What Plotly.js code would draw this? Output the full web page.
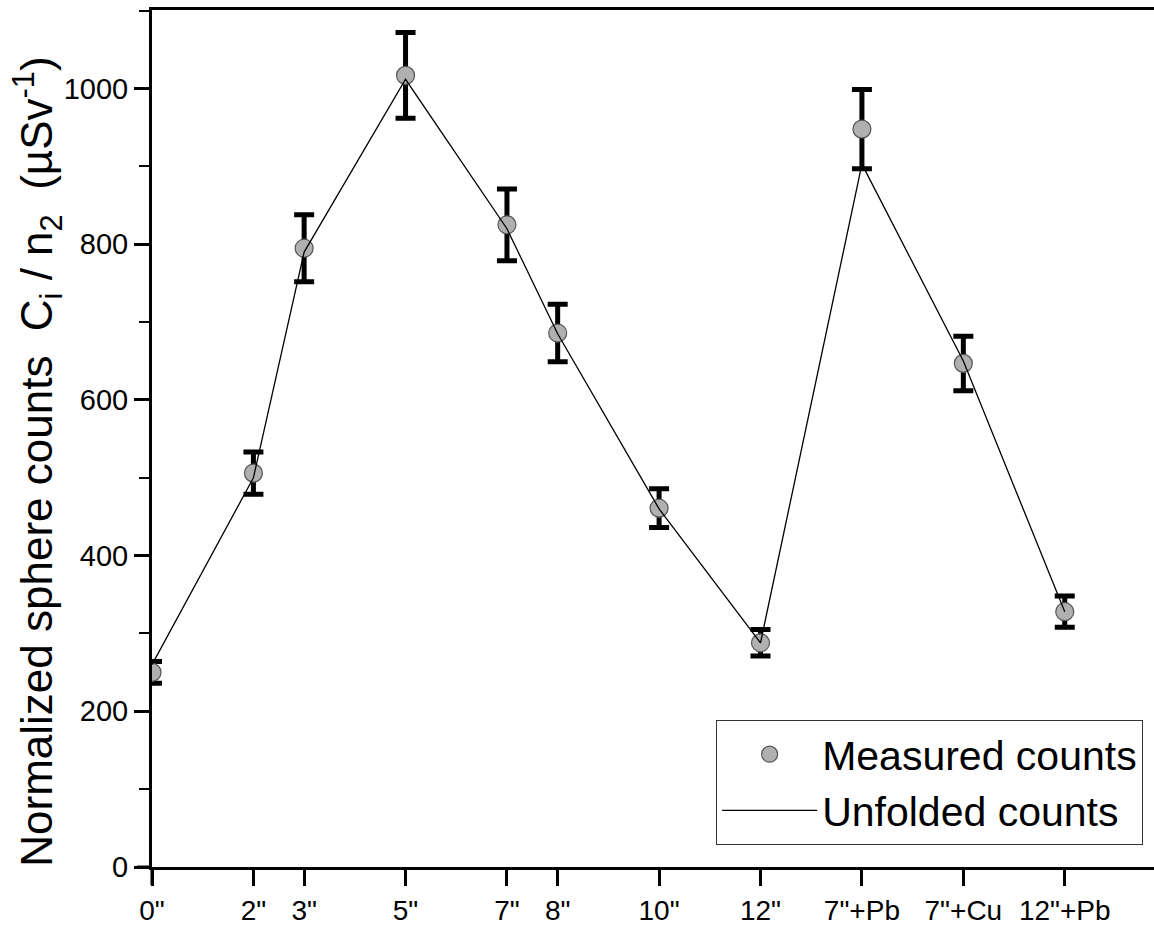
<!DOCTYPE html>
<html>
<head>
<meta charset="utf-8">
<script src="https://cdn.plot.ly/plotly-3.0.1.min.js"></script>
<style>html,body{margin:0;padding:0;background:#fff;}#chart{width:1154px;height:930px;}</style>
</head>
<body>
<div id="chart"></div>
<script>
// Sphere positions on the x axis and their labels
const positions = [0, 2, 3, 5, 7, 8, 10, 12, 14, 16, 18];
const tickLabels = ['0"', '2"', '3"', '5"', '7"', '8"', '10"', '12"', '7"+Pb', '7"+Cu', '12"+Pb'];
// Measured counts and their uncertainties
const measured = [250, 506, 795, 1017, 825, 686, 461, 288, 948, 647, 328];
const measuredErr = [14, 27, 43, 55, 46, 37, 25, 17, 51, 35, 20];
// Unfolded counts
const unfolded = [260, 500, 790, 1012, 820, 685, 460, 288, 903, 650, 328];
const yTicks = [0, 200, 400, 600, 800, 1000];
const yMinorTicks = [100, 300, 500, 700, 900, 1100];

const fontFam = 'Arial, "Liberation Sans", sans-serif';

const traces = [
  {
    x: positions, y: measured, type: 'scatter', mode: 'markers',
    name: 'Measured counts',
    marker: {size: 18, color: '#b0b0b0', line: {color: '#555555', width: 1.2}},
    error_y: {type: 'data', array: measuredErr, visible: true, color: '#000', thickness: 5, width: 10}
  },
  {
    x: positions, y: unfolded, type: 'scatter', mode: 'lines',
    name: 'Unfolded counts',
    line: {color: '#000', width: 1.3}
  }
];

const layout = {
  width: 1154, height: 930,
  margin: {l: 152, r: 0, t: 10, b: 63},
  paper_bgcolor: '#fff', plot_bgcolor: '#fff',
  font: {family: fontFam, color: '#000'},
  showlegend: true,
  legend: {
    x: 0.563, y: 0.1715, xanchor: 'left', yanchor: 'top',
    bordercolor: '#333', borderwidth: 1, bgcolor: '#fff',
    font: {size: 41, family: fontFam, color: '#000'},
    itemwidth: 95, tracegroupgap: 0
  },
  xaxis: {
    range: [0, 19.76], autorange: false,
    tickmode: 'array', tickvals: positions, ticktext: tickLabels,
    ticks: 'outside', ticklen: 16, tickwidth: 3, tickcolor: '#000',
    tickfont: {size: 28, family: fontFam, color: '#000'},
    showline: true, linecolor: '#000', linewidth: 3, mirror: true,
    showgrid: false, zeroline: false
  },
  yaxis: {
    range: [0, 1101], autorange: false,
    tickmode: 'array', tickvals: yTicks,
    ticks: 'outside', ticklen: 15, tickwidth: 3, tickcolor: '#000',
    minor: {tickvals: yMinorTicks, ticks: 'outside', ticklen: 10, tickwidth: 2, tickcolor: '#000', showgrid: false},
    tickfont: {size: 29, family: fontFam, color: '#000'},
    showline: true, linecolor: '#000', linewidth: 3,
    showgrid: false, zeroline: false
  },
  annotations: [
    {
      text: 'Normalized sphere counts  C<sub>i</sub> / n<sub>2</sub>  (\u00b5Sv<sup>-1</sup>)',
      xref: 'paper', yref: 'paper', x: -0.114, y: 0.4726,
      xanchor: 'center', yanchor: 'middle', textangle: -90, showarrow: false,
      font: {size: 44, family: fontFam, color: '#000'}
    }
  ],
  shapes: [
    {type: 'line', xref: 'paper', yref: 'paper', x0: 0, x1: 0, y0: 0, y1: -0.021, line: {color: '#000', width: 3}},
    {type: 'line', xref: 'paper', yref: 'paper', x0: -0.015, x1: 0, y0: 0, y1: 0, line: {color: '#000', width: 3}}
  ]
};

Plotly.newPlot('chart', traces, layout, {displayModeBar: false, staticPlot: true});
</script>
</body>
</html>
